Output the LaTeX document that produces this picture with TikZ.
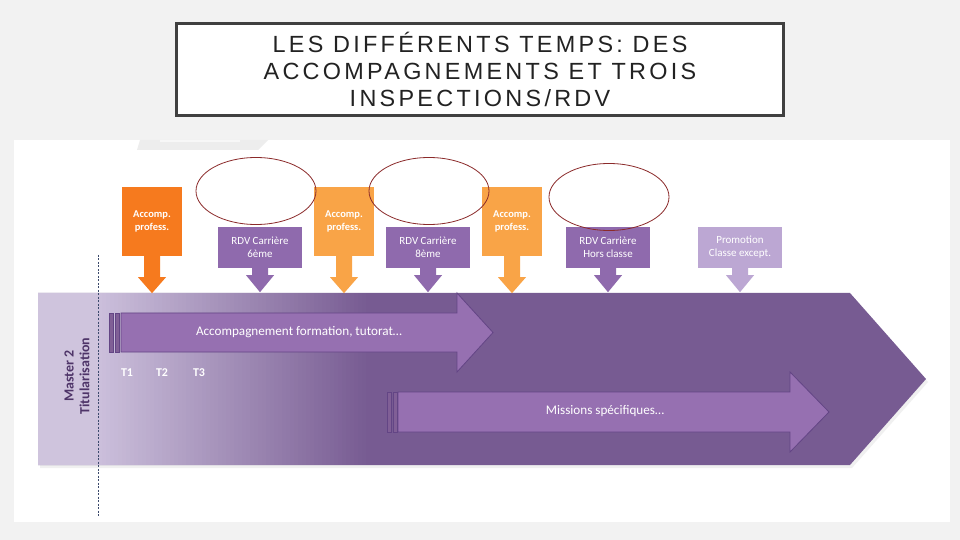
\documentclass[tikz,border=0pt]{standalone}
\usepackage{fontspec}
\setmainfont{Carlito}
\newfontfamily\titlefont[LetterSpace=14]{Liberation Sans}
\usetikzlibrary{shapes.geometric,calc}
\definecolor{bgc}{HTML}{F2F2F2}
\definecolor{faint}{HTML}{EDEDED}
\definecolor{orA}{HTML}{F67A1E}
\definecolor{orB}{HTML}{F9A447}
\definecolor{rdvc}{HTML}{8F6AAD}
\definecolor{promoc}{HTML}{BCA7D3}
\definecolor{band}{HTML}{775B92}
\definecolor{strip}{HTML}{CFC4DD}
\definecolor{lav}{HTML}{CBBFDB}
\definecolor{inner}{HTML}{9670B1}
\definecolor{innerline}{HTML}{634585}
\definecolor{masterc}{HTML}{4E3468}
\definecolor{ellc}{HTML}{8B2A2A}
\definecolor{titlec}{HTML}{222222}
\definecolor{dashc}{HTML}{3C4A6C}
\newcommand\blockdown[4]{%
  \fill[#2] ($(#1.south)+(-8,-0.5)$) -- ($(#1.south)+(-8,#3)$) -- ($(#1.south)+(-14,#3)$)
    -- ($(#1.south)+(0,#4)$) -- ($(#1.south)+(14,#3)$) -- ($(#1.south)+(8,#3)$)
    -- ($(#1.south)+(8,-0.5)$) -- cycle;}
\begin{document}
\begin{tikzpicture}[x=1bp,y=-1bp,
  obox/.style={fill=#1, minimum width=60bp, minimum height=69bp, inner sep=0pt, align=center,
    text=white, font=\bfseries\fontsize{10.5}{13.5}\selectfont},
  rbox/.style={fill=#1, minimum width=84bp, minimum height=41bp, inner sep=0pt, align=center,
    text=white, font=\fontsize{11}{13}\selectfont},
  ring/.style={ellipse, draw=ellc, line width=0.8bp, minimum width=120bp, minimum height=67bp, inner sep=0pt},
  barlabel/.style={text=white, font=\fontsize{13.2}{15}\selectfont, inner sep=0pt},
  tlabel/.style={text=white, font=\bfseries\fontsize{12}{14}\selectfont, inner sep=0pt},
  innerarrow/.style={fill=inner, draw=innerline, line width=0.8bp, line join=miter},
  stripe/.style={fill=inner!85!black, draw=innerline, line width=0.6bp}
]
\useasboundingbox (0,0) rectangle (960,540);
\fill[bgc] (0,0) rectangle (960,540);
% title
\node[draw=black!75, line width=3bp, fill=white, minimum width=607bp, minimum height=92bp,
  inner sep=0pt, align=center, text=titlec, font=\titlefont\fontsize{23.5}{27}\selectfont]
  (title) at (480,69.5) {LES DIFFÉRENTS TEMPS: DES\\ACCOMPAGNEMENTS ET TROIS\\INSPECTIONS/RDV};
% image panel
\fill[white] (14,140) rectangle (950,522);
\fill[faint] (140,140) -- (268,140) -- (258,150) -- (137,150) -- cycle;
\fill[white!97!black] (160,140) rectangle (240,142);
% band
\fill[black!6] (40,296) -- (852,296) -- (928,382) -- (852,468) -- (40,468) -- cycle;
\fill[band] (38,293) -- (850,293) -- (926,379) -- (850,465) -- (38,465) -- cycle;
\fill[strip] (38,293) rectangle (98,465);
\foreach \i in {0,...,67}{
  \pgfmathsetmacro\p{100*\i/67}
  \fill[band!\p!lav] ({98+4*\i},293) rectangle ({98+4*\i+4.6},465);
}
% inner arrows
\filldraw[stripe] (109,313) rectangle (113,352);
\filldraw[stripe] (115,313) rectangle (119,352);
\filldraw[innerarrow] (121,313) -- (457,313) -- (457,293) -- (493,332.5) -- (457,372) -- (457,352) -- (121,352) -- cycle;
\node[barlabel] (acc) at (299,332) {Accompagnement formation, tutorat…};
\filldraw[stripe] (387,392) rectangle (391,432);
\filldraw[stripe] (393,392) rectangle (397,432);
\filldraw[innerarrow] (398,392) -- (790,392) -- (790,372) -- (829,412) -- (790,452) -- (790,432) -- (398,432) -- cycle;
\node[barlabel] (mis) at (605,411) {Missions spécifiques…};
% T labels
\node[tlabel] (t1) at (127,373) {T1};
\node[tlabel] (t2) at (162,373) {T2};
\node[tlabel] (t3) at (199,373) {T3};
% master
\node[rotate=90, align=center, text=masterc, inner sep=0pt,
  font=\bfseries\fontsize{14}{16}\selectfont] (master) at (77,376) {Master 2\\Titularisation};
% dashed line
\coordinate (d1) at (98,255);
\coordinate (d2) at (98,517);
\draw[dashc, line width=0.7bp, dash pattern=on 2bp off 1.5bp] (d1) -- (d2);
% top boxes
\node[obox=orA] (a1) at (152,221.5) {Accomp.\\profess.};
\node[obox=orB] (a2) at (344,221.5) {Accomp.\\profess.};
\node[obox=orB] (a3) at (512,221.5) {Accomp.\\profess.};
\node[rbox=rdvc] (r1) at (260,247.5) {RDV Carrière\\6ème};
\node[rbox=rdvc] (r2) at (428,247.5) {RDV Carrière\\8ème};
\node[rbox=rdvc] (r3) at (608,247.5) {RDV Carrière\\Hors classe};
\node[rbox=promoc] (p1) at (740,247.5) {Promotion\\Classe except.};
\blockdown{a1}{orA}{21}{37}
\blockdown{a2}{orB}{21}{37}
\blockdown{a3}{orB}{21}{37}
\blockdown{r1}{rdvc}{7}{24}
\blockdown{r2}{rdvc}{7}{24}
\blockdown{r3}{rdvc}{7}{24}
\blockdown{p1}{promoc}{7}{24}
% ellipses
\node[ring] (e1) at (256,191) {};
\node[ring] (e2) at (429,191) {};
\node[ring] (e3) at (609,197) {};
\end{tikzpicture}
\end{document}
